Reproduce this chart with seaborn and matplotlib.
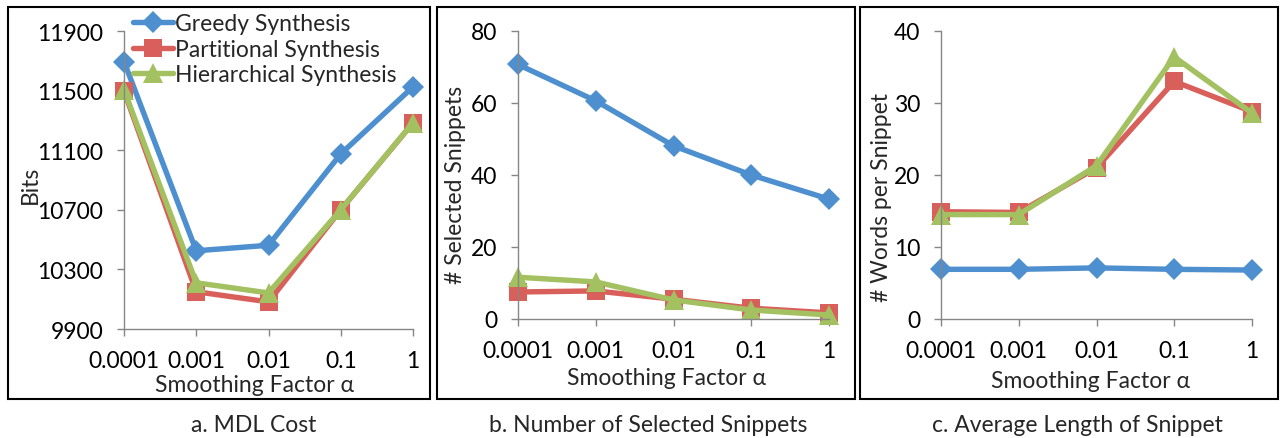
import numpy as np
import pandas as pd
import matplotlib
matplotlib.use('Agg')
import matplotlib.pyplot as plt
from matplotlib.patches import Rectangle
import seaborn as sns

# data
alphas = ['0.0001', '0.001', '0.01', '0.1', '1']
methods = ['Greedy Synthesis', 'Partitional Synthesis', 'Hierarchical Synthesis']

mdl_greedy = [11695, 10425, 10462, 11075, 11525]
mdl_partitional = [11497, 10150, 10082, 10700, 11283]
mdl_hierarchical = [11505, 10210, 10142, 10700, 11285]

sel_greedy = [70.7, 60.6, 48.1, 40.0, 33.3]
sel_partitional = [7.5, 7.8, 5.5, 3.0, 1.7]
sel_hierarchical = [11.6, 10.3, 5.3, 2.5, 1.1]

len_greedy = [6.9, 6.9, 7.1, 6.9, 6.8]
len_partitional = [14.9, 14.8, 21.0, 33.0, 28.8]
len_hierarchical = [14.5, 14.5, 21.3, 36.4, 28.6]

colors = ['#4e8fcf', '#d95f5a', '#a3c160']
markers = ['D', 's', '^']
msizes = [11.5, 13.5, 14.5]

panels = [
    dict(values=[mdl_greedy, mdl_partitional, mdl_hierarchical], ylim=(9900, 11900),
         yticks=[9900, 10300, 10700, 11100, 11500, 11900], ylabel='Bits',
         caption='a. MDL Cost', pos=(124, 413, 32, 330),
         ylab_xy=(30, 185), xlab_xy=(255, 386), cap_xy=(254, 426), box=(8, 430)),
    dict(values=[sel_greedy, sel_partitional, sel_hierarchical], ylim=(0, 80),
         yticks=[0, 20, 40, 60, 80], ylabel='# Selected Snippets',
         caption='b. Number of Selected Snippets', pos=(518, 829, 32, 320),
         ylab_xy=(456, 185), xlab_xy=(667, 379), cap_xy=(648, 426), box=(437, 855)),
    dict(values=[len_greedy, len_partitional, len_hierarchical], ylim=(0, 40),
         yticks=[0, 10, 20, 30, 40], ylabel='# Words per Snippet',
         caption='c. Average Length of Snippet', pos=(941, 1252, 32, 320),
         ylab_xy=(882, 197), xlab_xy=(1091, 382), cap_xy=(1077, 426), box=(860, 1278)),
]

sns.set_style('ticks')
plt.rcParams['font.family'] = ['Lato', 'DejaVu Sans']

W, H = 1280, 439
fig = plt.figure(figsize=(W / 100, H / 100), dpi=100)
fs = 16.5
gray = '#868686'

def fx(px):
    return px / W

def fy(py):
    return 1 - py / H

for i, p in enumerate(panels):
    x0, x1, y0, y1 = p['pos']
    ax = fig.add_axes([fx(x0), fy(y1), fx(x1) - fx(x0), fy(y0) - fy(y1)])
    xpos = np.arange(len(alphas))
    for name, vals, c, m, ms in zip(methods, p['values'], colors, markers, msizes):
        df = pd.DataFrame({'alpha': xpos, 'value': vals})
        sns.lineplot(data=df, x='alpha', y='value', ax=ax, color=c, marker=m,
                     markersize=ms, markeredgecolor=c, markeredgewidth=0,
                     linewidth=3.9, label=name, legend=False, clip_on=False)
    ax.set_xlim(0, len(alphas) - 1)
    ax.set_ylim(*p['ylim'])
    ax.set_xticks(xpos)
    ax.set_xticklabels(alphas)
    ax.set_yticks(p['yticks'])
    ax.tick_params(axis='both', labelsize=fs, colors=gray, labelcolor='black',
                   length=5, width=1)
    ax.tick_params(axis='x', pad=10)
    ax.tick_params(axis='y', pad=10)
    sns.despine(ax=ax)
    for s in ['left', 'bottom']:
        ax.spines[s].set_color(gray)
        ax.spines[s].set_linewidth(1)
    ax.set_xlabel('Smoothing Factor α', fontsize=fs)
    ax.set_ylabel(p['ylabel'], fontsize=fs)
    ax.xaxis.set_label_coords(fx(p['xlab_xy'][0]), fy(p['xlab_xy'][1]), transform=fig.transFigure)
    ax.yaxis.set_label_coords(fx(p['ylab_xy'][0]), fy(p['ylab_xy'][1]), transform=fig.transFigure)
    ax.xaxis.label.set_va('center')
    ax.yaxis.label.set_va('center')
    fig.text(fx(p['cap_xy'][0]), fy(p['cap_xy'][1]), p['caption'], fontsize=fs,
             ha='center', va='center')
    bx0, bx1 = p['box']
    fig.patches.append(Rectangle((fx(bx0), fy(400)), fx(bx1) - fx(bx0), fy(8) - fy(400),
                                 transform=fig.transFigure, fill=False,
                                 edgecolor='black', linewidth=1.5))
    if i == 0:
        leg = ax.legend(loc='upper left', bbox_to_anchor=(fx(133), fy(14)),
                        bbox_transform=fig.transFigure, frameon=False, fontsize=fs,
                        handlelength=1.75, handletextpad=0.1, labelspacing=0.2,
                        borderpad=0, borderaxespad=0)

fig.savefig('out.png', dpi=100)
